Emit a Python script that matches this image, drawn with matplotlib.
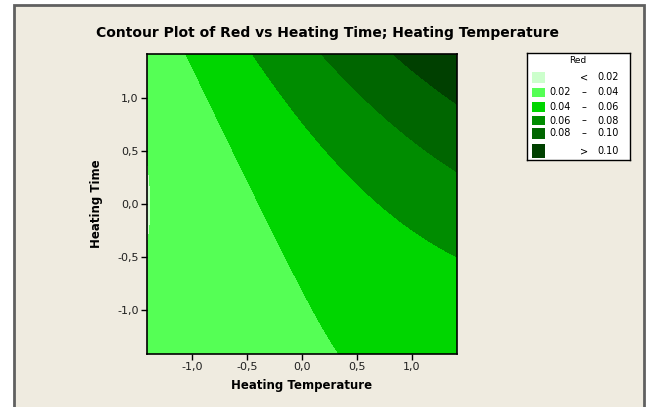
import numpy as np
import matplotlib
matplotlib.use("Agg")
import matplotlib.pyplot as plt
from matplotlib.patches import Rectangle

# Fitted response surface for Red (coded units):
# Red = b0 + b1*T + b2*t + b11*T^2 + b22*t^2 + b12*T*t
coef_names = ["b0", "b1", "b2", "b11", "b22", "b12"]
coef_vals = [0.04745, 0.01856, 0.01282, -0.00097, 0.00445, 0.00917]
levels = [-1.0, 0.02, 0.04, 0.06, 0.08, 0.10, 1.0]
level_colors = ["#ccffcc", "#55ff55", "#00d600", "#008c00", "#006600", "#004000"]
legend_left = ["", "0.02", "0.04", "0.06", "0.08", ""]
legend_mid = ["<", "–", "–", "–", "–", ">"]
legend_right = ["0.02", "0.04", "0.06", "0.08", "0.10", "0.10"]
xticks = [-1.0, -0.5, 0.0, 0.5, 1.0]
xtick_labels = ["-1,0", "-0,5", "0,0", "0,5", "1,0"]
yticks = [-1.0, -0.5, 0.0, 0.5, 1.0]
ytick_labels = ["-1,0", "-0,5", "0,0", "0,5", "1,0"]
alpha = np.sqrt(2)

W, H = 653, 407
fig = plt.figure(figsize=(W/100, H/100), dpi=100)
fig.patch.set_facecolor("white")

# background frame in pixel coords
bg = fig.add_axes([0, 0, 1, 1], zorder=-10)
bg.set_xlim(0, W); bg.set_ylim(H, 0); bg.axis("off")
bg.add_patch(Rectangle((14, 4.5), 629.5, 420, facecolor="#efebe0",
                       edgecolor="#606060", lw=2))

def px_axes(l, t, r, b, **kw):
    return fig.add_axes([l/W, 1-b/H, (r-l)/W, (b-t)/H], **kw)

ax = px_axes(147, 54, 457, 354)
g = np.linspace(-alpha, alpha, 500)
GX, GY = np.meshgrid(g, g)
b0, b1, b2, b11, b22, b12 = coef_vals
R = b0 + b1*GX + b2*GY + b11*GX**2 + b22*GY**2 + b12*GX*GY
ax.contourf(GX, GY, R, levels=levels, colors=level_colors, antialiased=False)
ax.set_xlim(-alpha, alpha); ax.set_ylim(-alpha, alpha)
ax.set_xticks(xticks, xtick_labels)
ax.set_yticks(yticks, ytick_labels)
ax.tick_params(direction="out", length=4, width=1, labelsize=8, color="black",
               labelcolor="#202020", pad=2)
for s in ax.spines.values():
    s.set_linewidth(1.2)
ax.set_xlabel("Heating Temperature", fontsize=8.5, fontweight="bold", labelpad=5)
ax.set_ylabel("Heating Time", fontsize=8.5, fontweight="bold", labelpad=10)

fig.text(328/W, 1-33/H, "Contour Plot of Red vs Heating Time; Heating Temperature",
         ha="center", va="center", fontsize=10, fontweight="bold")

# legend box
lg = px_axes(527, 53, 630, 160)
lg.set_xlim(527, 630); lg.set_ylim(160, 53)
lg.set_xticks([]); lg.set_yticks([])
lg.set_facecolor("white")
for s in lg.spines.values():
    s.set_linewidth(1.0)
lg.text(578, 61, "Red", ha="center", va="center", fontsize=6.5)
row_top = [71.7, 87.7, 101.7, 116, 128, 144]
row_bot = [83.3, 97.3, 111.7, 125, 139, 158]
for i in range(6):
    t, b = row_top[i], row_bot[i]
    lg.add_patch(Rectangle((532, t), 13, b - t, facecolor=level_colors[i], edgecolor="none"))
    yc = (t + b) / 2
    if legend_left[i]:
        lg.text(560, yc, legend_left[i], ha="center", va="center", fontsize=7)
    lg.text(584, yc, legend_mid[i], ha="center", va="center", fontsize=7)
    lg.text(608, yc, legend_right[i], ha="center", va="center", fontsize=7)

fig.savefig("out.png", dpi=100, facecolor=fig.get_facecolor())
